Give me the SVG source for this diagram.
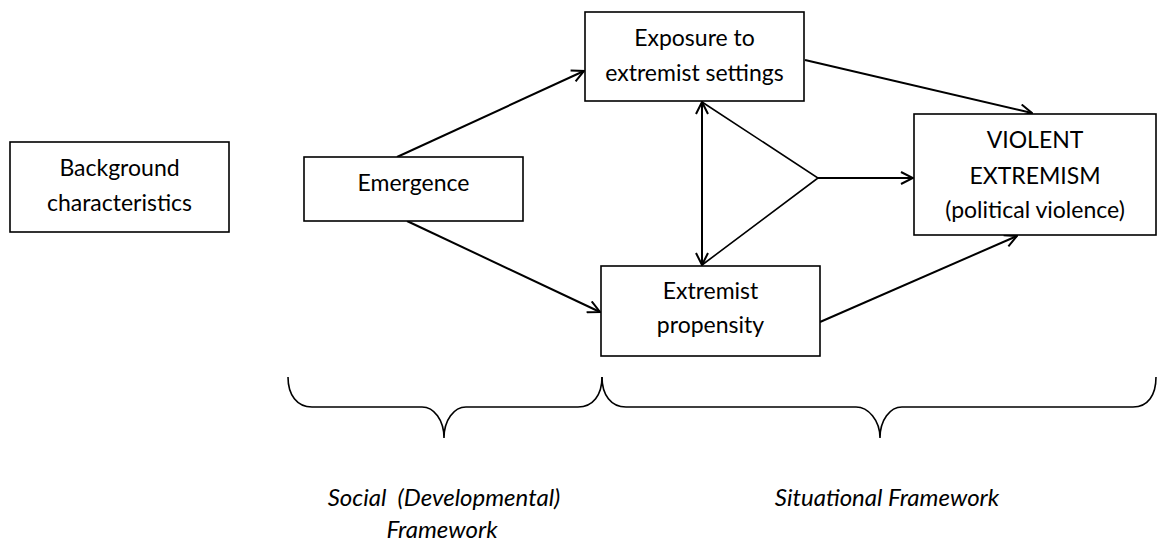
<svg xmlns="http://www.w3.org/2000/svg" width="1157" height="544" viewBox="0 0 1157 544">
<style>
.box{fill:#fff;stroke:#000;stroke-width:1.6}
.lbl{font-family:Lato,"Open Sans","Liberation Sans",sans-serif;font-size:23px;fill:#000;text-anchor:middle}
.it{font-family:Lato,"Open Sans","Liberation Sans",sans-serif;font-size:24px;font-style:italic;fill:#000;text-anchor:middle;white-space:pre}
.con{fill:none;stroke:#000;stroke-width:2}
.tri{fill:none;stroke:#000;stroke-width:1.6}
.brace{fill:none;stroke:#000;stroke-width:1.6}
</style>
<defs>
<marker id="ah" viewBox="0 0 14 14" refX="13" refY="7" markerWidth="14" markerHeight="14" markerUnits="userSpaceOnUse" orient="auto-start-reverse">
<path d="M1,1 L13,7 L1,13" fill="none" stroke="#000" stroke-width="2"/>
</marker>
</defs>
<rect width="1157" height="544" fill="#fff"/>
<g id="connectors">
<line class="con" x1="397" y1="157" x2="584" y2="71" marker-end="url(#ah)"/>
<line class="con" x1="407" y1="221" x2="600" y2="312" marker-end="url(#ah)"/>
<line class="con" x1="805" y1="60" x2="1032" y2="113" marker-end="url(#ah)"/>
<line class="con" x1="702" y1="102" x2="702" y2="265" marker-start="url(#ah)" marker-end="url(#ah)"/>
<polyline class="tri" points="702,102 818,178 702,265"/>
<line class="con" x1="818" y1="178" x2="913" y2="178" marker-end="url(#ah)"/>
<line class="con" x1="820" y1="322" x2="1017" y2="236" marker-end="url(#ah)"/>
</g>
<g id="braces">
<path class="brace" d="M288,377 C288,395 297,407 312,407 L422,407 C434,407 444,420 444,438 C444,420 454,407 466,407 L578,407 C593,407 602,395 602,377"/>
<path class="brace" d="M602,377 C602,395 611,407 626,407 L856,407 C868,407 880,420 880,438 C880,420 890,407 902,407 L1133,407 C1148,407 1156,395 1156,377"/>
</g>
<g id="background">
<rect class="box" x="10" y="142" width="219" height="90"/>
<text class="lbl" x="119.5" y="176">Background</text>
<text class="lbl" x="119.5" y="211">characteristics</text>
</g>
<g id="emergence">
<rect class="box" x="304" y="157" width="219" height="64"/>
<text class="lbl" x="413.5" y="191">Emergence</text>
</g>
<g id="exposure">
<rect class="box" x="585" y="12" width="219" height="89"/>
<text class="lbl" x="694.5" y="46">Exposure to</text>
<text class="lbl" x="694.5" y="81">extremist settings</text>
</g>
<g id="propensity">
<rect class="box" x="601" y="266" width="219" height="90"/>
<text class="lbl" x="710.5" y="299">Extremist</text>
<text class="lbl" x="710.5" y="333">propensity</text>
</g>
<g id="violent">
<rect class="box" x="914" y="114" width="242" height="121"/>
<text class="lbl" x="1035" y="148">VIOLENT</text>
<text class="lbl" x="1035" y="184">EXTREMISM</text>
<text class="lbl" x="1035" y="218">(political violence)</text>
</g>
<g id="social-label">
<text class="it" x="444" y="506">Social  (Developmental)</text>
<text class="it" x="442" y="538">Framework</text>
</g>
<g id="situational-label">
<text class="it" x="887" y="506">Situational Framework</text>
</g>
</svg>
